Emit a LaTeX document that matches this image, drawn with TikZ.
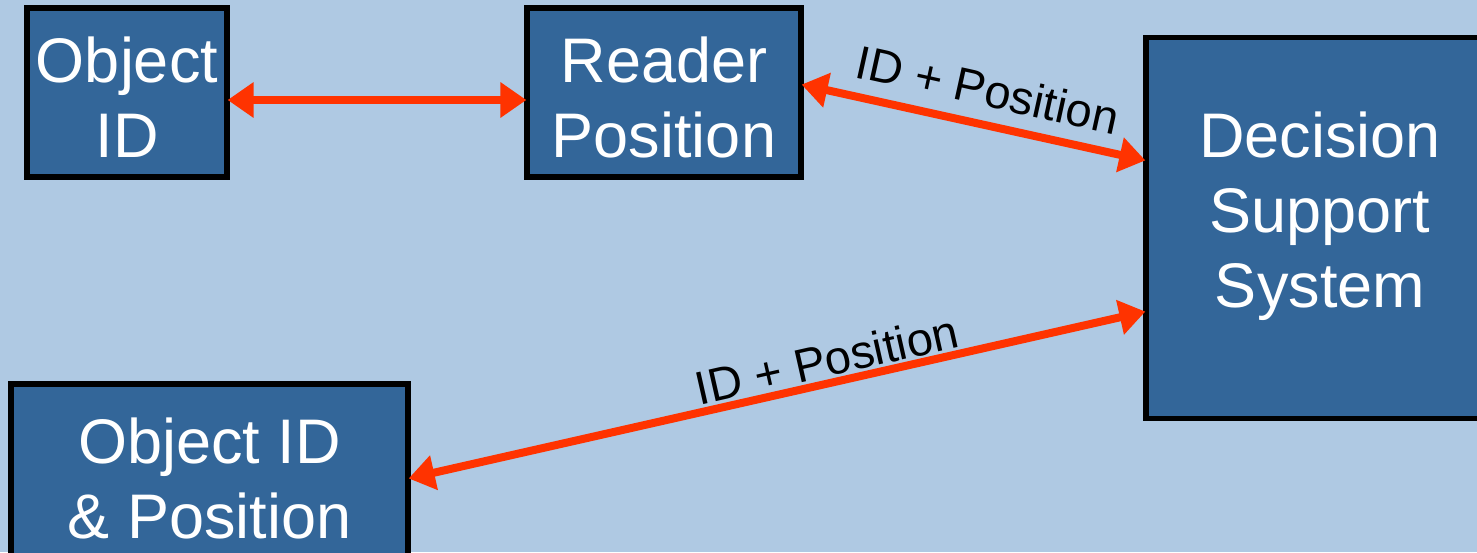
\documentclass[tikz,border=0pt]{standalone}
\usepackage{fontspec}
\setmainfont{Liberation Sans}
\usetikzlibrary{arrows.meta}
\definecolor{bg}{RGB}{175,201,227}
\definecolor{boxfill}{RGB}{51,102,153}
\definecolor{arr}{RGB}{255,51,0}
\tikzset{
  blk/.style={draw=black, line width=2.6pt, fill=boxfill, text=white, align=center,
    inner sep=0pt, font=\fontsize{31.5}{37.5}\selectfont},
  blktext/.style={text=white, align=center, inner sep=0pt, font=\fontsize{31.5}{37.5}\selectfont},
  link/.style={draw=arr, line width=4pt,
    {Triangle[length=13pt,width=17pt]}-{Triangle[length=13pt,width=17pt]}, shorten <=-1pt, shorten >=-1pt},
  lbl/.style={font=\fontsize{23.5}{28}\selectfont, text=black, inner sep=0pt}
}
\begin{document}
\begin{tikzpicture}[x=0.5pt,y=-0.5pt]
\useasboundingbox (0,0) rectangle (1477,552);
\clip (0,0) rectangle (1477,552);
\fill[bg] (0,0) rectangle (1477,552);
\node[blk, minimum width=100pt, minimum height=84.5pt] (oid) at (127,92.5) {};
\node[blktext] (oidt) at (127,97) {Object\\ID};
\node[blk, minimum width=137pt, minimum height=84.5pt] (rp) at (664,92.5) {};
\node[blktext] (rpt) at (664,97) {Reader\\Position};
\node[blk, minimum width=174pt, minimum height=190.5pt] (dss) at (1320,228) {};
\node[blktext] (dsst) at (1320,216) {Decision\\Support\\System};
\node[blk, minimum width=198.5pt, minimum height=94pt] (oidp) at (209.5,478) {Object ID\\\& Position};
\draw[link] (oid.east |- 0,100) -- (rp.west |- 0,100);
\draw[link] (rp.east |- 0,85) -- (dss.west |- 0,160)
  node[lbl, pos=0.52, sloped, above=7pt] {ID + Position};
\draw[link] (oidp.east |- 0,478) -- (dss.west |- 0,312)
  node[lbl, pos=0.575, sloped, above=1pt] {ID + Position};
\end{tikzpicture}
\end{document}
